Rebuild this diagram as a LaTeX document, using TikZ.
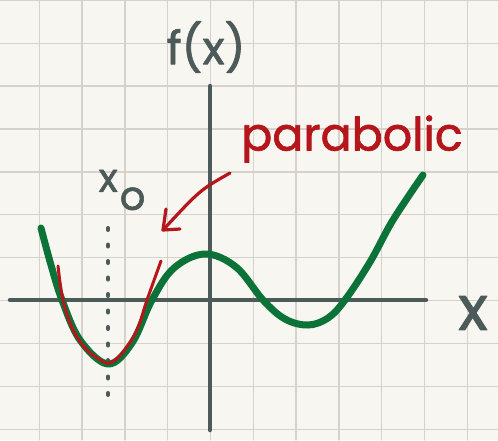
\documentclass[tikz,border=0pt]{standalone}
\usepackage{fontspec}
\setmainfont{Poppins}
\newfontfamily\hand[FakeBold=1.5]{Poppins}
\definecolor{bgc}{HTML}{F8F6F1}
\definecolor{gridc}{HTML}{D6D1CA}
\definecolor{axisc}{HTML}{4D5A5A}
\definecolor{greenc}{HTML}{0B7338}
\definecolor{redc}{HTML}{B5161B}
\begin{document}
\begin{tikzpicture}[x=1pt,y=-1pt,line cap=round,line join=round,
  gridline/.style={draw=gridc,line width=1.3pt},
  axisline/.style={draw=axisc,line width=4.5pt},
  dotline/.style={draw=axisc,line width=4pt,dash pattern=on 2pt off 14.5pt},
  greencurve/.style={draw=greenc,line width=7pt},
  redcurve/.style={draw=redc,line width=3pt},
  redarrow/.style={draw=redc,line width=3.2pt},
  graytxt/.style={text=axisc,inner sep=0pt},
  redtxt/.style={text=redc,inner sep=0pt}]
\fill[bgc] (0,0) rectangle (498,440);
\useasboundingbox (0,0) rectangle (498,440);
\foreach \i in {0,...,10} \draw[gridline] ({39.3+42.8*\i},0) -- ({39.3+42.8*\i},440);
\foreach \j in {0,...,10} \draw[gridline] (0,{0.3+42.9*\j}) -- (498,{0.3+42.9*\j});
% axes
\coordinate (xL) at (10,300);
\coordinate (xR) at (426,300);
\coordinate (yT) at (210,86);
\coordinate (yB) at (210,430);
\draw[axisline] (xL) -- (xR);
\draw[axisline] (yT) -- (yB);
% dotted line at x0
\coordinate (dT) at (108,228);
\coordinate (dB) at (108,408);
\draw[dotline] (dT) -- (dB);
% green function
\draw[greencurve] plot[smooth,tension=0.6] coordinates {(41,228) (51,265) (62,300) (80,340) (108,364) (132,343) (152,300) (174,268) (205,254) (236,267) (263,300) (285,319) (308,325) (328,318) (345,300) (370,262) (393,220) (423,175)};
% red parabola
\draw[redcurve] plot[smooth,tension=0.6] coordinates {(58,266) (63,300) (73,330) (87,350) (104,362) (112,362) (123,352) (137,330) (147,300) (161,261)};
% labels
\node[graytxt,font=\hand\fontsize{46}{46}\selectfont] (fx) at (206,47) {f(x)};
\node[graytxt,font=\hand\fontsize{40}{40}\selectfont] (x0) at (122,190) {x\hspace{2pt}\raisebox{-18pt}{o}};
\node[graytxt,font=\hand\fontsize{62}{62}\selectfont] (xl) at (473,313) {x};
\node[redtxt,font=\hand\fontsize{46}{46}\selectfont] (para) at (352,139) {parabolic};
% arrow
\coordinate (aS) at (230,173);
\coordinate (aE) at (163,230);
\coordinate (aH1) at (166,209);
\coordinate (aH2) at (180,229);
\draw[redarrow] (aS) .. controls (200,190) .. (aE);
\draw[redarrow] (aH1) -- (aE) -- (aH2);
\end{tikzpicture}
\end{document}
